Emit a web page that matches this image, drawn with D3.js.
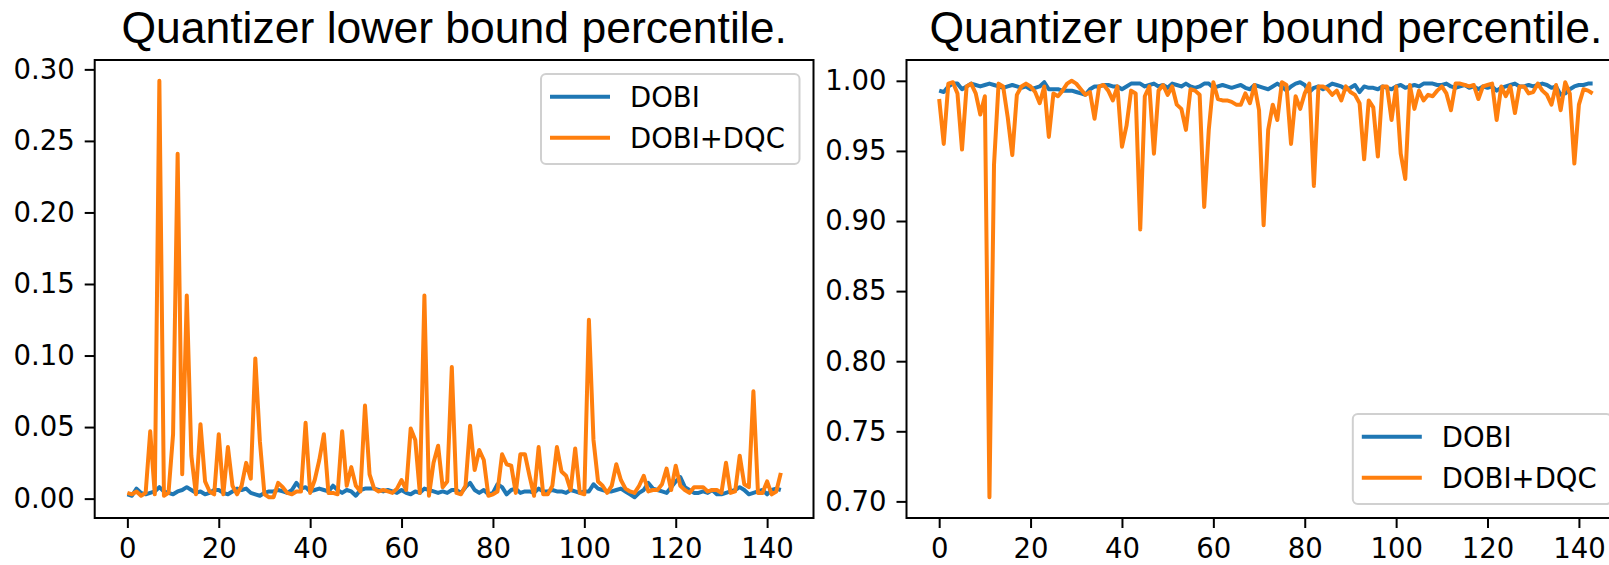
<!DOCTYPE html>
<html>
<head>
<meta charset="utf-8">
<script src="https://cdn.jsdelivr.net/npm/d3@7"></script>
<style>
  body { margin: 0; background: #fff; }
  svg { display: block; }
</style>
</head>
<body>
<div id="chart"></div>
<script>
// Quantizer percentiles per layer

const seriesNames = ["DOBI", "DOBI+DQC"];
const seriesColors = ["#1f77b4", "#ff7f0e"];
const xTicks = [0, 20, 40, 60, 80, 100, 120, 140];
const lowerTicks = [0.00, 0.05, 0.10, 0.15, 0.20, 0.25, 0.30];
const upperTicks = [0.70, 0.75, 0.80, 0.85, 0.90, 0.95, 1.00];

// lower bound percentile
const lowerDobi = [
  0.003, 0.002, 0.007, 0.004, 0.003, 0.004, 0.005, 0.008, 0.005, 0.004, 0.003, 0.005,
  0.006, 0.008, 0.006, 0.004, 0.005, 0.003, 0.004, 0.006, 0.006, 0.004, 0.003, 0.005,
  0.007, 0.006, 0.007, 0.004, 0.003, 0.002, 0.004, 0.005, 0.005, 0.006, 0.005, 0.004,
  0.006, 0.011, 0.007, 0.008, 0.005, 0.006, 0.007, 0.006, 0.005, 0.009, 0.006, 0.004,
  0.006, 0.005, 0.002, 0.006, 0.007, 0.007, 0.007, 0.006, 0.005, 0.006, 0.005, 0.004,
  0.006, 0.004, 0.003, 0.005, 0.004, 0.007, 0.006, 0.005, 0.004, 0.005, 0.004, 0.006,
  0.006, 0.004, 0.008, 0.011, 0.006, 0.004, 0.006, 0.003, 0.004, 0.010, 0.008, 0.003,
  0.006, 0.007, 0.004, 0.005, 0.005, 0.004, 0.007, 0.005, 0.005, 0.006, 0.005, 0.005,
  0.004, 0.006, 0.005, 0.004, 0.005, 0.005, 0.010, 0.007, 0.006, 0.005, 0.005, 0.006,
  0.007, 0.005, 0.003, 0.001, 0.004, 0.006, 0.011, 0.007, 0.006, 0.005, 0.004, 0.008,
  0.012, 0.015, 0.008, 0.006, 0.004, 0.004, 0.005, 0.004, 0.006, 0.003, 0.003, 0.004,
  0.005, 0.006, 0.008, 0.006, 0.003, 0.004, 0.005, 0.006, 0.003, 0.006, 0.007, 0.006
];
const lowerDobiDqc = [
  0.004, 0.003, 0.005, 0.002, 0.004, 0.047, 0.003, 0.292, 0.002, 0.004, 0.045, 0.241,
  0.017, 0.142, 0.030, 0.003, 0.052, 0.012, 0.005, 0.003, 0.045, 0.003, 0.036, 0.009,
  0.003, 0.009, 0.025, 0.014, 0.098, 0.040, 0.003, 0.001, 0.001, 0.011, 0.008, 0.004,
  0.003, 0.005, 0.005, 0.053, 0.004, 0.013, 0.027, 0.045, 0.004, 0.004, 0.003, 0.047,
  0.009, 0.022, 0.009, 0.005, 0.065, 0.017, 0.007, 0.005, 0.006, 0.005, 0.004, 0.007,
  0.013, 0.006, 0.049, 0.041, 0.004, 0.142, 0.002, 0.025, 0.037, 0.008, 0.012, 0.092,
  0.004, 0.003, 0.009, 0.051, 0.020, 0.034, 0.027, 0.002, 0.003, 0.005, 0.031, 0.024,
  0.023, 0.004, 0.031, 0.031, 0.016, 0.002, 0.036, 0.003, 0.003, 0.009, 0.036, 0.019,
  0.016, 0.006, 0.035, 0.004, 0.003, 0.125, 0.041, 0.012, 0.009, 0.004, 0.009, 0.024,
  0.013, 0.007, 0.005, 0.004, 0.009, 0.016, 0.005, 0.006, 0.006, 0.010, 0.021, 0.006,
  0.023, 0.009, 0.006, 0.004, 0.008, 0.008, 0.008, 0.005, 0.006, 0.006, 0.004, 0.025,
  0.004, 0.005, 0.030, 0.010, 0.008, 0.075, 0.004, 0.004, 0.012, 0.003, 0.005, 0.018
];

// upper bound percentile
const upperDobi = [
  0.993, 0.992, 0.996, 0.998, 0.998, 0.994, 0.996, 0.998, 0.997, 0.996, 0.997, 0.998,
  0.997, 0.996, 0.995, 0.996, 0.997, 0.996, 0.995, 0.996, 0.994, 0.995, 0.996, 0.999,
  0.994, 0.994, 0.994, 0.993, 0.993, 0.993, 0.992, 0.991, 0.990, 0.994, 0.996, 0.996,
  0.997, 0.997, 0.996, 0.996, 0.994, 0.996, 0.998, 0.998, 0.998, 0.996, 0.997, 0.998,
  0.996, 0.997, 0.995, 0.998, 0.997, 0.996, 0.998, 0.996, 0.995, 0.996, 0.998, 0.998,
  0.995, 0.996, 0.997, 0.996, 0.995, 0.996, 0.997, 0.995, 0.994, 0.997, 0.996, 0.995,
  0.994, 0.996, 0.998, 0.996, 0.993, 0.996, 0.998, 0.999, 0.997, 0.992, 0.995, 0.996,
  0.994, 0.996, 0.998, 0.997, 0.996, 0.994, 0.995, 0.997, 0.992, 0.996, 0.995, 0.995,
  0.994, 0.996, 0.995, 0.994, 0.996, 0.997, 0.995, 0.996, 0.997, 0.996, 0.998, 0.998,
  0.998, 0.997, 0.997, 0.998, 0.996, 0.995, 0.996, 0.997, 0.995, 0.996, 0.994, 0.996,
  0.995, 0.996, 0.993, 0.995, 0.996, 0.997, 0.998, 0.996, 0.996, 0.997, 0.996, 0.997,
  0.998, 0.997, 0.995, 0.996, 0.990, 0.991, 0.994, 0.996, 0.997, 0.997, 0.998, 0.998
];
const upperDobiDqc = [
  0.987, 0.955, 0.998, 0.999, 0.991, 0.951, 0.996, 0.998, 0.991, 0.976, 0.989, 0.703,
  0.940, 0.998, 0.996, 0.974, 0.947, 0.990, 0.996, 0.998, 0.996, 0.992, 0.984, 0.996,
  0.960, 0.991, 0.989, 0.993, 0.998, 1.000, 0.998, 0.994, 0.990, 0.992, 0.973, 0.996,
  0.997, 0.993, 0.986, 0.996, 0.953, 0.968, 0.993, 0.991, 0.894, 0.989, 0.996, 0.948,
  0.993, 0.997, 0.990, 0.996, 0.983, 0.980, 0.965, 0.994, 0.993, 0.990, 0.910, 0.965,
  0.999, 0.987, 0.986, 0.986, 0.985, 0.983, 0.983, 0.991, 0.984, 0.997, 0.979, 0.897,
  0.965, 0.983, 0.972, 0.999, 0.997, 0.955, 0.989, 0.980, 0.991, 0.998, 0.925, 0.996,
  0.996, 0.994, 0.990, 0.993, 0.986, 0.996, 0.992, 0.990, 0.984, 0.944, 0.986, 0.981,
  0.946, 0.996, 0.996, 0.972, 0.996, 0.948, 0.930, 0.997, 0.980, 0.993, 0.986, 0.990,
  0.989, 0.993, 0.996, 0.991, 0.979, 0.998, 0.998, 0.997, 0.996, 0.997, 0.987, 0.996,
  0.997, 0.998, 0.972, 0.996, 0.989, 0.996, 0.977, 0.996, 0.996, 0.991, 0.992, 0.998,
  0.993, 0.990, 0.983, 0.997, 0.979, 0.999, 0.991, 0.941, 0.983, 0.994, 0.993, 0.991
];

const width = 1609;
const height = 565;
const fontSize = 27.5;

const panels = [
  { title: "Quantizer lower bound percentile.", series: [lowerDobi, lowerDobiDqc],
    yTicks: lowerTicks, left: 94.7, right: 813.5, legend: "upper right" },
  { title: "Quantizer upper bound percentile.", series: [upperDobi, upperDobiDqc],
    yTicks: upperTicks, left: 906.5, right: 1625.3, legend: "lower right" }
];
const plotTop = 60;
const plotBottom = 518;

const svg = d3.select("#chart")
  .append("svg")
  .attr("width", width)
  .attr("height", height)
  .style("font-family", "'DejaVu Sans', sans-serif");

// matplotlib style autoscale: data range padded by 5% on each side
function paddedExtent(values) {
  const [lo, hi] = d3.extent(values);
  const pad = (hi - lo) * 0.05;
  return [lo - pad, hi + pad];
}

panels.forEach(p => {
  const n = p.series[0].length;
  const x = d3.scaleLinear()
    .domain(paddedExtent([0, n - 1]))
    .range([p.left, p.right]);
  const y = d3.scaleLinear()
    .domain(paddedExtent(p.series.flat()))
    .range([plotBottom, plotTop]);

  const g = svg.append("g");

  // data lines (DOBI first, DOBI+DQC drawn on top)
  const line = d3.line()
    .x((d, i) => x(i))
    .y(d => y(d));

  p.series.forEach((vals, k) => {
    g.append("path")
      .datum(vals)
      .attr("fill", "none")
      .attr("stroke", seriesColors[k])
      .attr("stroke-width", 4)
      .attr("stroke-linejoin", "round")
      .attr("d", line);
  });

  // axes
  const xAxis = g.append("g")
    .attr("transform", `translate(0,${plotBottom})`)
    .call(d3.axisBottom(x).tickValues(xTicks).tickSize(10).tickSizeOuter(0).tickPadding(10));
  const yAxis = g.append("g")
    .attr("transform", `translate(${p.left},0)`)
    .call(d3.axisLeft(y).tickValues(p.yTicks).tickFormat(d3.format(".2f"))
      .tickSize(10).tickSizeOuter(0).tickPadding(10));

  [xAxis, yAxis].forEach(a => {
    a.select(".domain").remove();
    a.selectAll(".tick line").attr("stroke", "#000").attr("stroke-width", 2);
    a.selectAll(".tick text")
      .attr("fill", "#000")
      .style("font-size", fontSize + "px")
      .style("font-family", "'DejaVu Sans', sans-serif");
  });

  // spines
  g.append("rect")
    .attr("x", p.left)
    .attr("y", plotTop)
    .attr("width", p.right - p.left)
    .attr("height", plotBottom - plotTop)
    .attr("fill", "none")
    .attr("stroke", "#000")
    .attr("stroke-width", 2);

  // title
  g.append("text")
    .attr("x", (p.left + p.right) / 2)
    .attr("y", 43)
    .attr("text-anchor", "middle")
    .style("font-family", "'Liberation Sans', Arial, sans-serif")
    .style("font-size", "44.5px")
    .attr("fill", "#000")
    .text(p.title);

  // legend
  const boxW = 258.5;
  const boxH = 90;
  const pad = 14;
  const bx = p.right - pad - boxW;
  const by = p.legend === "upper right" ? plotTop + pad : plotBottom - pad - boxH;
  const legend = g.append("g").attr("transform", `translate(${bx},${by})`);
  legend.append("rect")
    .attr("width", boxW)
    .attr("height", boxH)
    .attr("rx", 5)
    .attr("fill", "#fff")
    .attr("fill-opacity", 0.8)
    .attr("stroke", "#d0d0d0")
    .attr("stroke-width", 2);

  seriesNames.forEach((name, k) => {
    const ly = 22.7 + k * 41;
    legend.append("line")
      .attr("x1", 9)
      .attr("x2", 69)
      .attr("y1", ly)
      .attr("y2", ly)
      .attr("stroke", seriesColors[k])
      .attr("stroke-width", 4);
    legend.append("text")
      .attr("x", 89)
      .attr("y", ly + 10)
      .style("font-size", fontSize + "px")
      .attr("fill", "#000")
      .text(name);
  });
});
</script>
</body>
</html>
